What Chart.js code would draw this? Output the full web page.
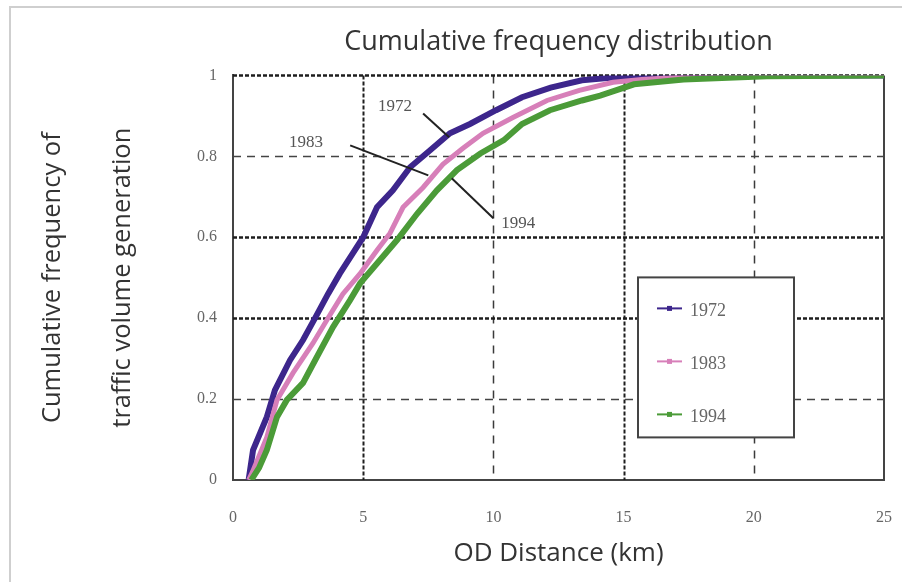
<!DOCTYPE html>
<html>
<head>
<meta charset="utf-8">
<script src="https://cdn.jsdelivr.net/npm/chart.js@4/dist/chart.umd.min.js"></script>
<style>
  html, body { margin: 0; padding: 0; background: #fff; }
  #chart { display: block; }
</style>
</head>
<body>
<canvas id="chart" width="902" height="582"></canvas>
<script>
// values (OD distance in km, cumulative share)
const seriesNames = ["1972", "1983", "1994"];

const dist1972 = [0.6, 0.77, 1.3, 1.61, 2.19, 2.69, 3.15, 3.65, 4.1, 4.6, 5.0, 5.53, 6.14, 6.8, 7.57, 8.33, 9.1, 10.1, 11.1, 12.2, 13.4, 14.6, 15.5, 17, 20, 25];
const cum1972  = [0, 0.074, 0.156, 0.222, 0.296, 0.346, 0.40, 0.46, 0.51, 0.56, 0.60, 0.674, 0.716, 0.773, 0.815, 0.857, 0.88, 0.914, 0.946, 0.97, 0.988, 0.995, 1.0, 1.0, 1.0, 1.0];

const dist1983 = [0.6, 0.75, 1.3, 1.69, 2.3, 3.07, 3.6, 4.22, 4.88, 5.53, 6.03, 6.53, 7.3, 8.06, 8.83, 9.6, 10.75, 12.06, 13.3, 14.6, 15.7, 17, 20, 25];
const cum1983  = [0, 0.02, 0.106, 0.198, 0.264, 0.338, 0.395, 0.46, 0.51, 0.568, 0.61, 0.674, 0.723, 0.78, 0.82, 0.857, 0.896, 0.938, 0.963, 0.983, 0.99, 0.995, 1.0, 1.0];

const dist1994 = [0.7, 1.0, 1.3, 1.69, 2.07, 2.69, 3.22, 3.84, 4.49, 4.88, 5.53, 6.3, 7.07, 7.83, 8.6, 9.5, 10.4, 11.1, 12.17, 13.4, 14.1, 15.4, 17.3, 20.5, 25];
const cum1994  = [0, 0.03, 0.074, 0.156, 0.198, 0.24, 0.304, 0.378, 0.444, 0.486, 0.535, 0.593, 0.658, 0.716, 0.766, 0.807, 0.84, 0.88, 0.914, 0.938, 0.95, 0.978, 0.99, 0.998, 1.0];

const xTicks = [0, 5, 10, 15, 20, 25];
const yTicks = [0, 0.2, 0.4, 0.6, 0.8, 1];

// callout labels with their leader lines, in data units
const calloutText = ["1972", "1983", "1994"];
const calloutAt   = [[6.22, 0.923], [2.8, 0.835], [10.95, 0.635]];
const leaderFrom  = [[7.3, 0.906], [4.5, 0.827], [10.0, 0.647]];
const leaderTo    = [[8.3, 0.847], [7.5, 0.753], [8.4, 0.746]];

const colors = ["#3d268c", "#d77fb9", "#4b9b38"];
const serif = "'Liberation Serif', 'DejaVu Serif', serif";
const sans = "'Open Sans', 'Noto Sans', sans-serif";

function points(xs, ys) {
    return xs.map((x, i) => ({ x: x, y: ys[i] }));
}

const decorations = {
    id: "decorations",
    beforeDraw(chart) {
        const ctx = chart.ctx;
        ctx.save();
        ctx.fillStyle = "#fff";
        ctx.fillRect(0, 0, chart.width, chart.height);
        // light frame of the original picture
        ctx.strokeStyle = "#cfcfcf";
        ctx.lineWidth = 2;
        ctx.beginPath();
        ctx.moveTo(10, chart.height);
        ctx.lineTo(10, 7);
        ctx.lineTo(chart.width, 7);
        ctx.stroke();
        ctx.restore();
    },
    beforeDatasetsDraw(chart) {
        const ctx = chart.ctx;
        const xs = chart.scales.x, ys = chart.scales.y;
        const a = chart.chartArea;
        ctx.save();
        // vertical grid
        xTicks.forEach(v => {
            if (v === 0 || v === 25) return;
            const px = Math.round(xs.getPixelForValue(v)) + 0.5;
            const dense = (v === 5 || v === 15);
            ctx.strokeStyle = dense ? "#1e1e1e" : "#3a3a3a";
            ctx.lineWidth = dense ? 2 : 1.5;
            ctx.setLineDash(dense ? [4, 2] : [8, 7]);
            ctx.beginPath();
            ctx.moveTo(px, a.top);
            ctx.lineTo(px, a.bottom);
            ctx.stroke();
        });
        // horizontal grid
        yTicks.forEach(v => {
            if (v === 0) return;
            const py = Math.round(ys.getPixelForValue(v)) + 0.5;
            const dense = (v === 0.4 || v === 0.6 || v === 1);
            ctx.strokeStyle = dense ? "#1e1e1e" : "#444";
            ctx.lineWidth = dense ? 2.5 : 1.5;
            ctx.setLineDash(dense ? [4, 2] : [8, 6]);
            ctx.beginPath();
            ctx.moveTo(a.left, py);
            ctx.lineTo(a.right, py);
            ctx.stroke();
        });
        // right edge of the plot frame
        ctx.setLineDash([]);
        ctx.strokeStyle = "#444";
        ctx.lineWidth = 2;
        ctx.beginPath();
        ctx.moveTo(a.right, a.top);
        ctx.lineTo(a.right, a.bottom);
        ctx.stroke();
        ctx.restore();
    },
    afterDatasetsDraw(chart) {
        const ctx = chart.ctx;
        const xs = chart.scales.x, ys = chart.scales.y;
        const a = chart.chartArea;
        ctx.save();
        // callouts
        ctx.font = "17px " + serif;
        ctx.fillStyle = "#555";
        ctx.textAlign = "center";
        ctx.textBaseline = "middle";
        ctx.strokeStyle = "#222";
        ctx.lineWidth = 2;
        calloutText.forEach((t, i) => {
            ctx.fillText(t, xs.getPixelForValue(calloutAt[i][0]), ys.getPixelForValue(calloutAt[i][1]));
            ctx.beginPath();
            ctx.moveTo(xs.getPixelForValue(leaderFrom[i][0]), ys.getPixelForValue(leaderFrom[i][1]));
            ctx.lineTo(xs.getPixelForValue(leaderTo[i][0]), ys.getPixelForValue(leaderTo[i][1]));
            ctx.stroke();
        });
        // legend box inside the plot
        const bx = a.left + 405, by = a.top + 202, bw = 156, bh = 160;
        ctx.fillStyle = "#fff";
        ctx.fillRect(bx, by, bw, bh);
        ctx.strokeStyle = "#444";
        ctx.lineWidth = 2;
        ctx.strokeRect(bx, by, bw, bh);
        ctx.font = "18px " + serif;
        ctx.textAlign = "left";
        seriesNames.forEach((name, i) => {
            const ly = by + 31 + i * 53;
            ctx.strokeStyle = colors[i];
            ctx.lineWidth = 2;
            ctx.beginPath();
            ctx.moveTo(bx + 19, ly);
            ctx.lineTo(bx + 44, ly);
            ctx.stroke();
            ctx.fillStyle = colors[i];
            ctx.fillRect(bx + 29, ly - 2.5, 5, 5);
            ctx.fillStyle = "#666";
            ctx.fillText(name, bx + 52, ly + 3);
        });
        ctx.restore();
    }
};

new Chart(document.getElementById("chart"), {
    type: "scatter",
    data: {
        datasets: [
            { label: seriesNames[0], data: points(dist1972, cum1972), showLine: true, borderColor: colors[0], backgroundColor: colors[0], borderWidth: 6, pointRadius: 0, order: 3 },
            { label: seriesNames[1], data: points(dist1983, cum1983), showLine: true, borderColor: colors[1], backgroundColor: colors[1], borderWidth: 5, pointRadius: 0, order: 2 },
            { label: seriesNames[2], data: points(dist1994, cum1994), showLine: true, borderColor: colors[2], backgroundColor: colors[2], borderWidth: 6, pointRadius: 0, order: 1 }
        ]
    },
    options: {
        responsive: false,
        animation: false,
        layout: { padding: { left: 0, right: 18, top: 0, bottom: 0 } },
        plugins: {
            legend: { display: false },
            tooltip: { enabled: false },
            title: {
                display: true,
                fullSize: false,
                text: "Cumulative frequency distribution",
                color: "#333",
                font: { family: sans, size: 27, weight: "normal", lineHeight: 1.2 },
                padding: { top: 26, bottom: 17 }
            }
        },
        scales: {
            x: {
                type: "linear",
                min: 0,
                max: 25,
                afterBuildTicks(scale) { scale.ticks = xTicks.map(v => ({ value: v })); },
                afterFit(scale) {
                    scale.height = 102;
                    scale.paddingRight = 0;
                    scale.paddingLeft = 0;
                },
                grid: { display: false, drawTicks: false },
                border: { display: true, color: "#444", width: 2 },
                ticks: { color: "#666", padding: 28, font: { family: serif, size: 16 } },
                title: {
                    display: true,
                    text: "OD Distance (km)",
                    color: "#333",
                    font: { family: sans, size: 26, lineHeight: 1.2 },
                    padding: { top: 0, bottom: 13 }
                }
            },
            y: {
                min: 0,
                max: 1,
                afterBuildTicks(scale) { scale.ticks = yTicks.map(v => ({ value: v })); },
                afterFit(scale) { scale.width = 233; },
                grid: { display: false, drawTicks: false },
                border: { display: true, color: "#444", width: 2 },
                ticks: { color: "#666", padding: 16, font: { family: serif, size: 16 }, callback: v => String(v) },
                title: {
                    display: true,
                    text: ["Cumulative frequency of", "traffic volume generation"],
                    color: "#333",
                    font: { family: sans, size: 25.5, lineHeight: 2.75 },
                    padding: { top: 18, bottom: 0 }
                }
            }
        }
    },
    plugins: [decorations]
});
</script>
</body>
</html>
